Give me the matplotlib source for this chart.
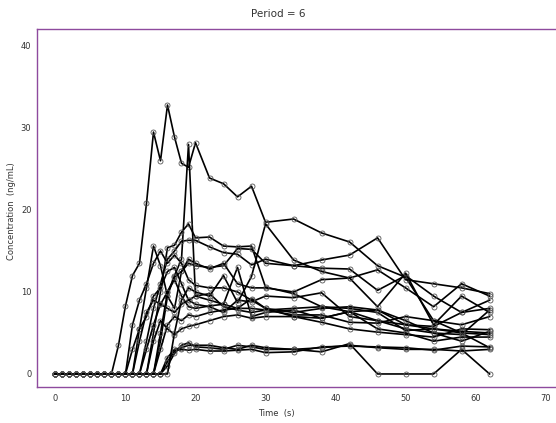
import matplotlib
matplotlib.use("Agg")
import matplotlib.pyplot as plt

# sampling times (s)
times = [0, 1, 2, 3, 4, 5, 6, 7, 8, 9, 10, 11, 12, 13, 14, 15, 16,
         17, 18, 19, 20, 22, 24, 26, 28, 30, 34, 38, 42, 46, 50, 54, 58, 62]

# concentration curves (ng/mL), one list per subject
s01 = [0, 0, 0, 0, 0, 0, 0, 0, 0, 3.5, 8.3, 12.0, 13.5, 20.8, 29.5, 26.0, 32.8,
       28.9, 25.7, 25.2, 28.2, 23.9, 23.2, 21.6, 22.9, 18.5, 18.9, 17.2, 16.1, 13.2, 11.8, 6.5, 5.0, 3.2]
s02 = [0, 0, 0, 0, 0, 0, 0, 0, 0, 0, 0, 0, 0, 0, 0, 4.0, 9.5,
       12.0, 14.0, 28.0, 9.5, 9.0, 8.5, 13.0, 7.0, 7.5, 7.8, 6.8, 7.6, 6.5, 5.5, 5.0, 4.0, 5.2]
s03 = [0, 0, 0, 0, 0, 0, 0, 0, 0, 0, 0, 0, 0, 0, 5.0, 10.0, 15.4,
       15.7, 17.3, 18.3, 16.6, 16.7, 15.6, 15.5, 15.6, 10.6, 9.8, 8.2, 7.6, 7.8, 6.5, 5.0, 4.8, 7.8]
s04 = [0, 0, 0, 0, 0, 0, 0, 0, 0, 0, 0, 0, 5.5, 10.5, 15.6, 13.2, 9.5,
       8.0, 12.5, 13.5, 13.2, 13.0, 13.2, 15.3, 15.2, 13.5, 13.2, 12.9, 12.8, 10.2, 12.0, 9.5, 7.5, 9.0]
s05 = [0, 0, 0, 0, 0, 0, 0, 0, 0, 0, 0, 0, 0, 4.0, 8.0, 11.0, 14.0,
       15.0, 16.2, 16.3, 16.3, 15.5, 14.8, 14.6, 13.3, 14.0, 13.2, 13.9, 14.5, 16.6, 11.5, 11.0, 10.5, 9.8]
s06 = [0, 0, 0, 0, 0, 0, 0, 0, 0, 0, 0, 0, 0, 0, 0, 0, 1.0,
       2.5, 3.5, 3.8, 3.3, 3.2, 3.0, 3.5, 3.3, 3.0, 3.0, 2.7, 3.7, 0, 0, 0, 3.0, 0]
s07 = [0, 0, 0, 0, 0, 0, 0, 0, 0, 0, 0, 0, 0, 0, 0, 0, 2.0,
       3.0, 3.2, 3.5, 3.5, 3.5, 3.2, 3.0, 3.5, 3.2, 3.0, 3.2, 3.5, 3.2, 3.0, 3.0, 2.8, 3.0]
s08 = [0, 0, 0, 0, 0, 0, 0, 0, 0, 0, 0, 0, 0, 0, 0, 0, 1.5,
       2.8, 3.0, 2.9, 3.0, 2.8, 2.8, 2.9, 3.0, 2.6, 2.7, 3.3, 3.4, 3.3, 3.2, 2.9, 3.4, 3.3]
s09 = [0, 0, 0, 0, 0, 0, 0, 0, 0, 0, 0, 3.0, 5.5, 7.0, 9.5, 10.5, 12.5,
       13.0, 11.0, 9.0, 9.5, 9.8, 8.2, 7.8, 7.5, 7.8, 8.0, 8.2, 8.0, 7.5, 5.3, 5.5, 5.0, 4.8]
s10 = [0, 0, 0, 0, 0, 0, 0, 0, 0, 0, 0, 0, 0, 3.0, 6.0, 8.5, 8.0,
       7.5, 8.5, 9.0, 8.5, 8.2, 7.5, 9.0, 8.8, 9.5, 9.3, 9.9, 7.0, 6.5, 6.0, 5.8, 7.5, 8.0]
s11 = [0, 0, 0, 0, 0, 0, 0, 0, 0, 0, 0, 0, 0, 0, 0, 3.0, 6.0,
       7.0, 6.5, 7.2, 7.0, 7.5, 7.8, 8.0, 8.0, 7.8, 7.2, 7.2, 6.3, 6.2, 7.0, 6.5, 6.0, 7.0]
s12 = [0, 0, 0, 0, 0, 0, 0, 0, 0, 0, 0, 0, 0, 0, 4.0, 6.5, 5.5,
       4.8, 5.5, 5.8, 6.0, 6.5, 7.0, 7.2, 6.8, 7.0, 7.0, 6.3, 5.5, 5.1, 4.8, 4.5, 5.5, 5.4]
s13 = [0, 0, 0, 0, 0, 0, 0, 0, 0, 0, 0, 0, 4.0, 7.5, 9.0, 8.5, 10.0,
       11.5, 9.5, 8.2, 8.0, 8.3, 8.5, 8.0, 9.2, 8.0, 7.0, 6.8, 7.6, 5.5, 5.0, 4.0, 4.5, 4.5]
s14 = [0, 0, 0, 0, 0, 0, 0, 0, 0, 0, 0, 0, 0, 0, 0, 5.0, 10.0,
       11.8, 12.5, 14.0, 13.5, 12.8, 13.5, 11.0, 10.5, 10.5, 10.0, 11.5, 11.7, 12.7, 10.5, 8.2, 11.0, 9.5]
s15 = [0, 0, 0, 0, 0, 0, 0, 0, 0, 0, 0, 0, 0, 0, 0, 0, 0,
       5.0, 9.0, 10.5, 10.0, 9.5, 12.0, 8.7, 11.9, 18.3, 13.9, 12.5, 11.7, 8.2, 12.3, 6.0, 9.5, 7.5]
s16 = [0, 0, 0, 0, 0, 0, 0, 0, 0, 0, 0, 6.0, 9.0, 11.0, 13.5, 15.0, 13.5,
       14.5, 13.5, 11.5, 10.8, 10.5, 10.5, 10.0, 9.0, 8.0, 7.5, 8.0, 8.2, 7.8, 6.0, 5.5, 5.2, 5.0]

curves = [s01, s02, s03, s04, s05, s06, s07, s08,
          s09, s10, s11, s12, s13, s14, s15, s16]

x_ticks = [0, 10, 20, 30, 40, 50, 60, 70]
y_ticks = [0, 10, 20, 30, 40]

frame = "#8e4a9e"
txt = "#333333"

fig = plt.figure(figsize=(5.56, 4.23), dpi=100)
ax = fig.add_axes([0.0665, 0.0851, 0.94, 0.8463])

for c in curves:
    ax.plot(times, c, color="black", lw=1.2,
            marker="o", ms=3.6, mfc="none", mec="#555555", mew=0.6)

ax.set_xlim(-2.64, 72)
ax.set_ylim(-1.59, 42.07)
ax.set_xticks(x_ticks)
ax.set_yticks(y_ticks)
ax.tick_params(axis="x", length=0, labelsize=6, colors=txt, pad=5)
ax.tick_params(axis="y", length=0, labelsize=6, colors=txt, pad=4)
for sp in ax.spines.values():
    sp.set_color(frame)
    sp.set_linewidth(1.0)

# axis titles placed in figure coordinates
fig.text(276 / 556, 1 - 413 / 423, "Time  (s)", ha="center", va="center",
         fontsize=6, color=txt)
fig.text(12 / 556, 0.5, "Concentration  (ng/mL)", rotation=90,
         ha="center", va="center", fontsize=6, color=txt)
fig.text(0.5, 0.966, "Period = 6", ha="center", va="center", fontsize=7.5, color=txt)

fig.savefig("out.png", dpi=100)
